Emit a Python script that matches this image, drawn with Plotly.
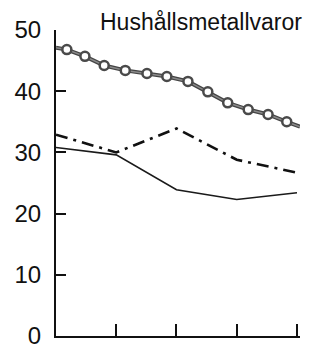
import plotly.graph_objects as go

# Data
periods = [0, 1, 2, 3, 4]
solid_values = [30.8, 29.6, 23.9, 22.3, 23.4]
dashdot_values = [32.9, 30.0, 33.9, 28.8, 26.7]

trend_x = [0.0, 0.18, 0.48, 0.80, 1.15, 1.51, 1.84, 2.19, 2.52, 2.85, 3.19, 3.52, 3.83, 4.05]
trend_values = [47.1, 46.8, 45.7, 44.2, 43.4, 42.9, 42.4, 41.6, 39.9, 38.1, 37.0, 36.2, 35.0, 34.2]
marker_x = trend_x[1:-1]
marker_values = trend_values[1:-1]

y_ticks = [0, 10, 20, 30, 40, 50]
x_ticks = [1, 2, 3, 4]
title_text = "Hushållsmetallvaror"

fig = go.Figure()

fig.add_trace(go.Scatter(
    x=periods, y=solid_values, mode="lines",
    line=dict(color="#1a1a1a", width=1.6), showlegend=False, hoverinfo="skip"))

fig.add_trace(go.Scatter(
    x=periods, y=dashdot_values, mode="lines",
    line=dict(color="#111111", width=2.6, dash="12px,6px,3px,6px"),
    showlegend=False, hoverinfo="skip"))

fig.add_trace(go.Scatter(
    x=trend_x, y=trend_values, mode="lines",
    line=dict(color="#444444", width=4), showlegend=False, hoverinfo="skip"))
fig.add_trace(go.Scatter(
    x=trend_x, y=trend_values, mode="lines",
    line=dict(color="#8a8a8a", width=1.5), showlegend=False, hoverinfo="skip"))
fig.add_trace(go.Scatter(
    x=marker_x, y=marker_values, mode="markers",
    marker=dict(size=9, color="white", line=dict(color="#4a4a4a", width=2.5)),
    showlegend=False, hoverinfo="skip"))

font_family = "Liberation Sans, Arial, sans-serif"

fig.update_layout(
    width=307, height=340,
    margin=dict(l=48, r=15, t=22, b=12, autoexpand=False),
    paper_bgcolor="white", plot_bgcolor="white",
    font=dict(family=font_family, color="#111111"),
    xaxis=dict(
        range=[0, 4.05], tickmode="array", tickvals=x_ticks, ticktext=["", "", "", ""],
        ticks="inside", ticklen=12, tickwidth=2, tickcolor="#111111",
        showline=True, linecolor="#111111", linewidth=2.2, automargin=False,
        showgrid=False, zeroline=False, fixedrange=True),
    yaxis=dict(
        range=[0, 50], tickmode="array", tickvals=y_ticks,
        ticktext=[str(v) for v in y_ticks],
        ticks="inside", ticklen=10, tickwidth=2, tickcolor="#111111",
        tickfont=dict(size=24, family=font_family, color="#111111"),
        showline=True, linecolor="#111111", linewidth=2.2, automargin=False,
        showgrid=False, zeroline=False, fixedrange=True, ticklabelstandoff=8,
        ticklabeloverflow="allow"),
    annotations=[dict(
        text=title_text, xref="paper", yref="paper", x=1.016, y=1.0,
        xanchor="right", yanchor="middle", yshift=8, showarrow=False,
        font=dict(size=23, family=font_family, color="#111111"))],
)

fig.write_html("out.html")
